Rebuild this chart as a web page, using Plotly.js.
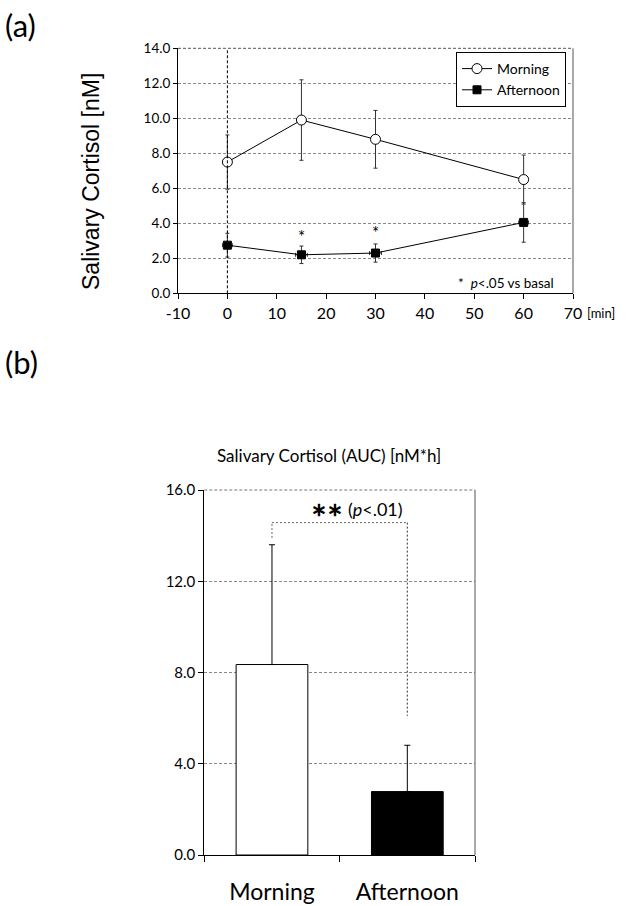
<!DOCTYPE html>
<html>
<head>
<meta charset="utf-8">
<script src="https://cdn.plot.ly/plotly-3.0.1.min.js"></script>
<style>html,body{margin:0;padding:0;background:#fff;}#chart{width:630px;height:906px;}</style>
</head>
<body>
<div id="chart"></div>
<script>
// Panel (a) data
var timeMin = [0, 15, 30, 60];
var morningMean = [7.5, 9.9, 8.8, 6.5];
var morningSD = [1.55, 2.3, 1.65, 1.4];
var afternoonMean = [2.75, 2.2, 2.3, 4.05];
var afternoonSD = [0.68, 0.5, 0.52, 1.13];
var afternoonTimeErr = [1.0, 1.2, 1.2, 1.0];
var starTimes = [15, 30];
var starValues = [3.23, 3.49];
var xTickVals = [-10, 0, 10, 20, 30, 40, 50, 60, 70];
var xTickText = ['-10', '0', '10', '20', '30', '40', '50', '60', '70'];
// Panel (b) data
var aucCategories = ['Morning', 'Afternoon'];
var aucMean = [8.35, 2.78];
var aucSD = [5.25, 2.03];
var bracketLow = [13.9, 6.1];
var bracketTop = 14.57;

var F = 'Lato, "Open Sans", sans-serif';
var traces = [
  {
    x: timeMin, y: morningMean, name: 'Morning', type: 'scatter', mode: 'lines+markers',
    xaxis: 'x', yaxis: 'y',
    line: {color: '#000', width: 1},
    marker: {symbol: 'circle', size: 10, color: '#fff', line: {color: '#000', width: 1}},
    error_y: {type: 'data', array: morningSD, visible: true, color: '#333', thickness: 1, width: 2}
  },
  {
    x: timeMin, y: afternoonMean, name: 'Afternoon', type: 'scatter', mode: 'lines+markers',
    xaxis: 'x', yaxis: 'y',
    line: {color: '#000', width: 1},
    marker: {symbol: 'square', size: 8, color: '#000', line: {color: '#000', width: 1}},
    error_y: {type: 'data', array: afternoonSD, visible: true, color: '#333', thickness: 1, width: 2},
    error_x: {type: 'data', array: afternoonTimeErr, visible: true, color: '#333', thickness: 1, width: 2}
  },
  {
    x: aucCategories, y: aucMean, type: 'bar', xaxis: 'x2', yaxis: 'y2', showlegend: false,
    marker: {color: ['#fff', '#000'], line: {color: '#000', width: 1}},
    width: 0.53,
    error_y: {type: 'data', symmetric: false, array: aucSD, arrayminus: [0, 0], visible: true, color: '#000', thickness: 1, width: 3}
  }
];

var shapes = [
  // panel a frame: right solid, top dashed
  {type: 'line', xref: 'x domain', yref: 'y domain', x0: 1, x1: 1, y0: 0, y1: 1, line: {color: '#555', width: 1}},
  {type: 'line', xref: 'x domain', yref: 'y domain', x0: 0, x1: 1, y0: 1, y1: 1, line: {color: '#555', width: 1, dash: '3px,2px'}},
  // vertical dashed at time 0
  {type: 'line', xref: 'x', yref: 'y domain', x0: 0, x1: 0, y0: 0, y1: 1, line: {color: '#000', width: 1, dash: '3px,2px'}},
  // panel b frame
  {type: 'line', xref: 'x2 domain', yref: 'y2 domain', x0: 1, x1: 1, y0: 0, y1: 1, line: {color: '#555', width: 1}},
  {type: 'line', xref: 'x2 domain', yref: 'y2 domain', x0: 0, x1: 1, y0: 1, y1: 1, line: {color: '#777', width: 1, dash: '3px,2px'}},
  // significance bracket
  {type: 'line', xref: 'x2', yref: 'y2', x0: 0, x1: 0, y0: bracketLow[0], y1: bracketTop, line: {color: '#666', width: 1, dash: '2px,2px'}},
  {type: 'line', xref: 'x2', yref: 'y2', x0: 0, x1: 1, y0: bracketTop, y1: bracketTop, line: {color: '#666', width: 1, dash: '2px,2px'}},
  {type: 'line', xref: 'x2', yref: 'y2', x0: 1, x1: 1, y0: bracketTop, y1: bracketLow[1], line: {color: '#333', width: 1, dash: '2px,2px'}}
];

var annotations = [
  {text: '(a)', xref: 'paper', yref: 'paper', x: 3/630, y: 1 - 4/906, xanchor: 'left', yanchor: 'top', showarrow: false, font: {family: F, size: 31, color: '#000'}},
  {text: '(b)', xref: 'paper', yref: 'paper', x: 3/630, y: 1 - 341/906, xanchor: 'left', yanchor: 'top', showarrow: false, font: {family: F, size: 31, color: '#000'}},
  {text: 'Salivary Cortisol [nM]', xref: 'paper', yref: 'paper', x: 91/630, y: 1 - 181/906, textangle: -90, xanchor: 'center', yanchor: 'middle', showarrow: false, font: {family: 'Liberation Sans, Arial, sans-serif', size: 23, color: '#000'}},
  {text: '[min]', xref: 'paper', yref: 'paper', x: 601/630, y: 1 - 313/906, xanchor: 'center', yanchor: 'middle', showarrow: false, font: {family: F, size: 13, color: '#000'}},
  {text: '*  <i>p</i><.05 vs basal', xref: 'paper', yref: 'paper', x: 556/630, y: 1 - 283/906, xanchor: 'right', yanchor: 'middle', showarrow: false, font: {family: F, size: 13.5, color: '#000'}},
  {text: 'Salivary Cortisol (AUC) [nM*h]', xref: 'paper', yref: 'paper', x: 329/630, y: 1 - 455/906, xanchor: 'center', yanchor: 'middle', showarrow: false, font: {family: F, size: 17, color: '#000'}},
  {text: '<b>∗∗</b> <span style="font-size:18px">(<i>p</i><.01)</span>', xref: 'paper', yref: 'paper', x: 357/630, y: 1 - 508/906, xanchor: 'center', yanchor: 'middle', showarrow: false, font: {family: F, size: 19, color: '#000'}}
];
for (var i = 0; i < starTimes.length; i++) {
  annotations.push({text: '*', xref: 'x', yref: 'y', x: starTimes[i], y: starValues[i], showarrow: false, xanchor: 'center', yanchor: 'middle', font: {family: F, size: 17, color: '#000'}});
}

var layout = {
  width: 630, height: 906,
  margin: {l: 0, r: 0, t: 0, b: 0},
  paper_bgcolor: '#fff', plot_bgcolor: '#fff',
  showlegend: true,
  legend: {x: 566/630, y: 1 - 52/906, xanchor: 'right', yanchor: 'top', bordercolor: '#000', borderwidth: 1, bgcolor: '#fff',
    font: {family: F, size: 14, color: '#000'}, itemwidth: 30, tracegroupgap: 0},
  xaxis: {
    domain: [178/630, 573/630], anchor: 'y', range: [-10, 70], tickmode: 'array', tickvals: xTickVals, ticktext: xTickText,
    showgrid: false, zeroline: false, showline: true, linecolor: '#000', linewidth: 1,
    ticks: 'outside', ticklen: 5, tickcolor: '#000', tickfont: {family: F, size: 16, color: '#000'}
  },
  yaxis: {
    domain: [1 - 293.3/906, 1 - 48.3/906], anchor: 'x', range: [0, 14], tickmode: 'linear', tick0: 0, dtick: 2, tickformat: '.1f',
    showgrid: true, gridcolor: '#888', griddash: '3px,2px', gridwidth: 1, zeroline: false, showline: true, linecolor: '#000', linewidth: 1,
    ticks: 'outside', ticklen: 4, tickcolor: '#000', tickfont: {family: F, size: 13.5, color: '#000'}
  },
  xaxis2: {
    domain: [204.3/630, 475/630], anchor: 'y2', type: 'category', range: [-0.5, 1.5],
    showgrid: false, zeroline: false, showline: true, linecolor: '#000', linewidth: 1,
    ticks: 'outside', tickson: 'boundaries', ticklen: 6, tickcolor: '#000', ticklabelstandoff: 16,
    tickfont: {family: F, size: 23, color: '#000'}
  },
  yaxis2: {
    domain: [1 - 855/906, 1 - 490/906], anchor: 'x2', range: [0, 16], tickmode: 'linear', tick0: 0, dtick: 4, tickformat: '.1f',
    showgrid: true, gridcolor: '#888', griddash: '3px,2px', gridwidth: 1, zeroline: false, showline: true, linecolor: '#000', linewidth: 1,
    ticks: 'outside', ticklen: 5, tickcolor: '#000', tickfont: {family: F, size: 15, color: '#000'}
  },
  shapes: shapes,
  annotations: annotations
};

Plotly.newPlot('chart', traces, layout, {displayModeBar: false, staticPlot: true});
</script>
</body>
</html>
